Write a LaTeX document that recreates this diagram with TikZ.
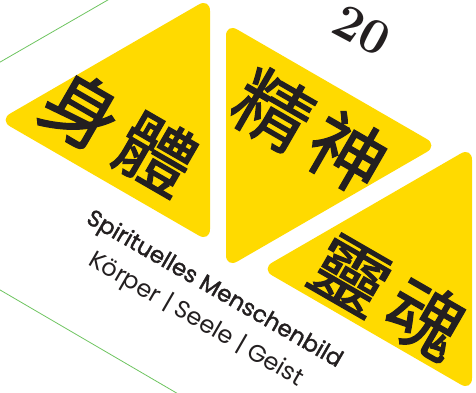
\documentclass[tikz,border=0pt]{standalone}
\usepackage{fontspec}
\newfontfamily\cjk{Noto Sans CJK TC}[FakeBold=1.6]
\newfontfamily\poppins{Poppins}
\newfontfamily\poppinsfett{Poppins}[FakeBold=1.5]
\definecolor{gelb}{RGB}{255,218,0}
\definecolor{tinte}{RGB}{35,31,32}
\definecolor{gruen}{RGB}{110,196,96}
\def\dreieck[#1](#2)(#3)(#4){\fill[#1] (#2) -- (#3) -- (#4) -- cycle;}

\begin{document}
\begin{tikzpicture}[x=1pt, y=-1pt,
		zeichen/.style={text=tinte, rotate=-30, inner sep=0pt, font=\cjk\fontsize{76}{76}\selectfont},
		titel/.style={text=tinte, rotate=-30, inner sep=0pt, font=\poppinsfett\fontsize{23}{27}\selectfont},
		untertitel/.style={text=tinte, rotate=-30, inner sep=0pt, font=\poppins\fontsize{24}{28}\selectfont}]
			%%%%% START %%%%%
			\useasboundingbox (0, 0) rectangle (476, 392);
			
			\draw[gruen, line width=0.8pt] (-5, 65) -- (113, -3);
			\draw[gruen, line width=0.8pt] (-5, 287) -- (180, 395);
			
			\dreieck[gelb, rounded corners=13pt](-1, 120)(210, -2)(210, 242)
			\dreieck[gelb, rounded corners=13pt](226, 23)(438, 145.5)(226, 268)
			\dreieck[gelb, rounded corners=13pt](261, 269)(472, 147)(472, 391)
			
			\node[zeichen] (koerper) at (119, 132) {身\kern10pt體};
			\node[zeichen] (geist) at (310, 131.5) {精\kern10pt神};
			\node[zeichen] (seele) at (388, 296.5) {靈\kern10pt魂};
			
			\node[text=tinte, rotate=-28, font=\bfseries\fontsize{50}{50}\selectfont] (seite) at (362, 30) {20};
			
			\node[titel] (bild) at (214, 290) {Spirituelles Menschenbild};
			\node[untertitel] (drei) at (196, 320) {Körper | Seele | Geist};
			%%%%% END %%%%%
		\end{tikzpicture}
\end{document}
